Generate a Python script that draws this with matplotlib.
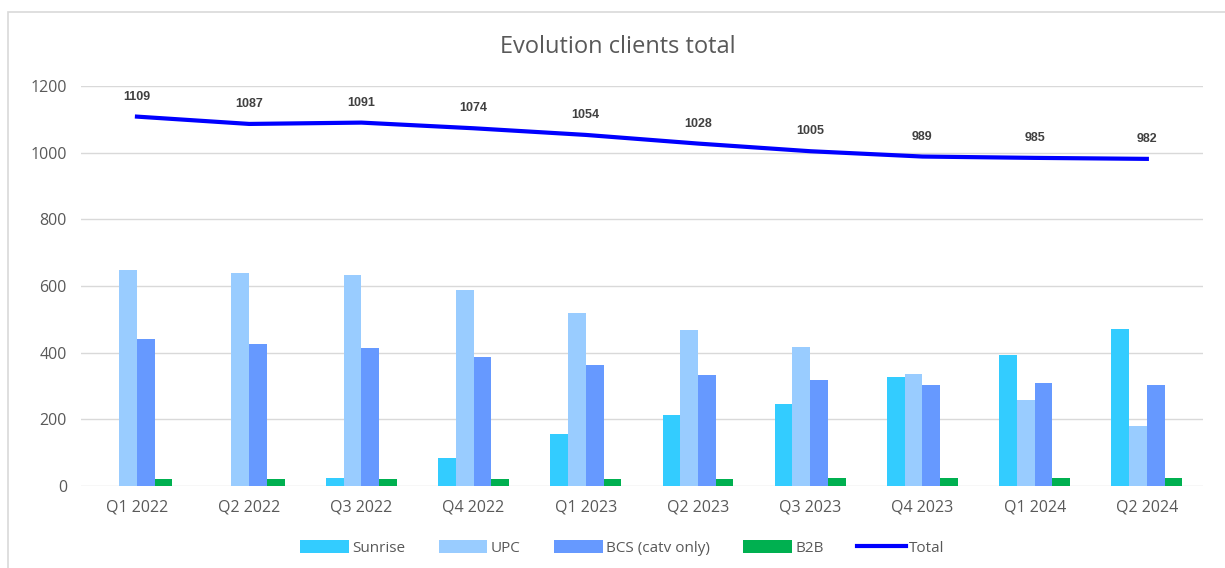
# -----------------------------
# SETUP
# -----------------------------
import numpy as np
import matplotlib
matplotlib.use("Agg")
import matplotlib.pyplot as plt
from matplotlib.patches import Rectangle

plt.rcParams["font.family"] = ["Open Sans", "DejaVu Sans"]

# -----------------------------
# DATA
# -----------------------------
quarters = ["Q1 2022", "Q2 2022", "Q3 2022", "Q4 2022", "Q1 2023",
            "Q2 2023", "Q3 2023", "Q4 2023", "Q1 2024", "Q2 2024"]
sunrise = [0, 0, 24, 83, 156, 212, 244, 326, 394, 472]
upc = [647, 638, 633, 588, 519, 468, 418, 335, 258, 180]
bcs = [440, 427, 413, 386, 363, 331, 317, 303, 307, 303]
b2b = [20, 20, 20, 20, 20, 19, 24, 24, 24, 24]
total = [1109, 1087, 1091, 1074, 1054, 1028, 1005, 989, 985, 982]

series_names = ["Sunrise", "UPC", "BCS (catv only)", "B2B"]
series_colors = ["#33CCFF", "#99CCFF", "#6699FF", "#00B050"]

# -----------------------------
# PLOT
# -----------------------------
fig = plt.figure(figsize=(12.25, 5.68), dpi=100)
ax = fig.add_axes([0.066, 0.145, 0.916, 0.703])

x = np.arange(len(quarters))
w = 0.158
handles = []
for i, (vals, name, col) in enumerate(zip([sunrise, upc, bcs, b2b], series_names, series_colors)):
    b = ax.bar(x + (i - 1.5) * w, vals, width=w, color=col, label=name, zorder=2)
    handles.append(b)

line, = ax.plot(x, total, color="#0000FF", lw=3, label="Total", zorder=3)
handles.append(line)
for xi, t in zip(x, total):
    ax.annotate(str(t), (xi, t), xytext=(0, 10), textcoords="offset points",
                ha="center", va="bottom", fontsize=9, fontweight="bold",
                color="#404040", family=["Liberation Sans", "DejaVu Sans"])

ax.set_xlim(-0.5, len(quarters) - 0.5)
ax.set_ylim(0, 1200)
ax.set_yticks(range(0, 1201, 200))
ax.set_xticks(x)
ax.set_xticklabels(quarters)
ax.grid(axis="y", color="#D9D9D9", lw=1, zorder=0)
ax.set_axisbelow(True)
for s in ax.spines.values():
    s.set_visible(False)
ax.tick_params(length=0, labelsize=11.5, colors="#595959", pad=10)

fig.text(0.504, 0.918, "Evolution clients total", ha="center", va="center",
         fontsize=17, color="#595959")

fig.legend(handles=handles, labels=series_names + ["Total"], loc="center",
           bbox_to_anchor=(0.508, 0.035), ncol=5, frameon=False,
           fontsize=11, labelcolor="#595959", handlelength=3.2, handleheight=0.9,
           columnspacing=2.2, handletextpad=0.2)

# chart border
fig.patches.append(Rectangle((8 / 1225, -0.05), 1.1, 1 - 12 / 568 + 0.05,
                             transform=fig.transFigure, fill=False,
                             edgecolor="#D9D9D9", lw=1.2))

fig.savefig("out.png", dpi=100)
